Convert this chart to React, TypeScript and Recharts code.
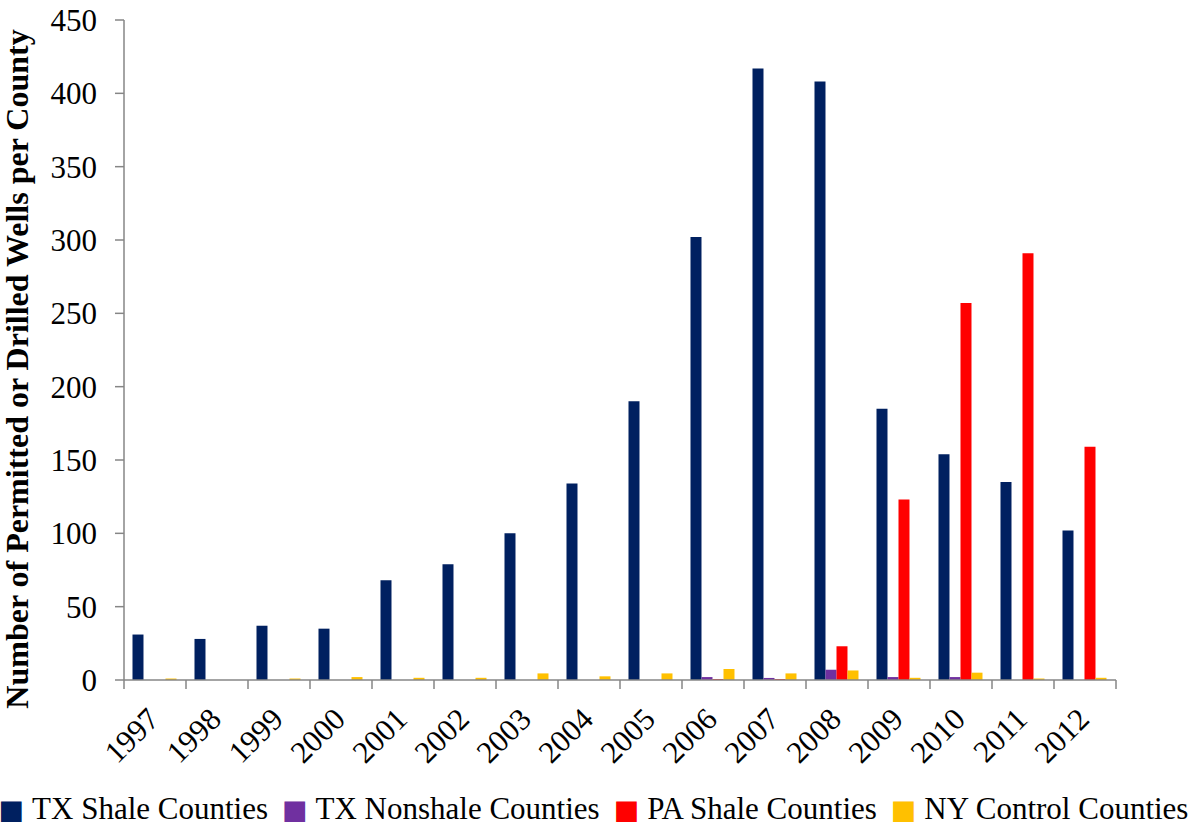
import React from 'react';
import { BarChart, Bar, XAxis, YAxis, Legend } from 'recharts';

const years = ['1997','1998','1999','2000','2001','2002','2003','2004','2005','2006','2007','2008','2009','2010','2011','2012'];
const txShale = [31, 28, 37, 35, 68, 79, 100, 134, 190, 302, 417, 408, 185, 154, 135, 102];
const txNonshale = [0, 0, 0, 0, 0, 0, 0, 0, 0, 2, 1.4, 7, 2, 2, 0, 0];
const paShale = [0, 0, 0, 0, 0, 0, 0, 0, 0, 0.6, 0.6, 23, 123, 257, 291, 159];
const nyControl = [1, 0, 1, 2, 1.5, 1.5, 4.5, 2.5, 4.5, 7.5, 4.5, 6.5, 1.5, 5, 1, 1.5];
const yTicks = [0, 50, 100, 150, 200, 250, 300, 350, 400, 450];
const seriesNames = ['TX Shale Counties', 'TX Nonshale Counties', 'PA Shale Counties', 'NY Control Counties'];

const data = years.map((y, i) => ({
  year: y,
  txShale: txShale[i],
  txNonshale: txNonshale[i],
  paShale: paShale[i],
  nyControl: nyControl[i],
}));

const W = 1199;
const H = 830;
const M = { top: 20, right: 83, left: 0, bottom: 0 };
const Y_W = 124;
const PLOT_W = W - M.left - M.right - Y_W;
const BAND = PLOT_W / years.length;
const FONT = "'Liberation Serif', 'Times New Roman', serif";
const AXIS = '#868686';

const XTick = (props: any) => {
  const { x, y, payload, index } = props;
  const left = x - BAND / 2;
  const ax = x + 6;
  const ay = y + 41;
  return (
    <g>
      <line x1={left} y1={y} x2={left} y2={y + 9} stroke={AXIS} strokeWidth={1.5} />
      {index === years.length - 1 && (
        <line x1={x + BAND / 2} y1={y} x2={x + BAND / 2} y2={y + 9} stroke={AXIS} strokeWidth={1.5} />
      )}
      <text x={ax} y={ay} transform={`rotate(-45, ${ax}, ${ay})`} textAnchor="end" fontFamily={FONT} fontSize={31} fill="#000">
        {payload.value}
      </text>
    </g>
  );
};

const LegendContent = (props: any) => {
  const payload = [...(props.payload || [])].sort(
    (a: any, b: any) => seriesNames.indexOf(a.value) - seriesNames.indexOf(b.value)
  );
  return (
    <svg width={W} height={40} style={{ display: 'block' }}>
      <text x={W / 2 - 6} y={29} textAnchor="middle" fontFamily={FONT} fontSize={31} fill="#000">
        {payload.map((e: any, i: number) => (
          <React.Fragment key={i}>
            <tspan fill={e.color} fontFamily="'DejaVu Sans', sans-serif" fontSize={27} dx={i === 0 ? 0 : 14}>■</tspan>
            <tspan dx={8}>{e.value}</tspan>
          </React.Fragment>
        ))}
      </text>
    </svg>
  );
};

const YLabel = () => (
  <text transform="translate(28, 369) rotate(-90)" textAnchor="middle" fontFamily={FONT} fontSize={32} fontWeight="bold" fill="#000">
    Number of Permitted or Drilled Wells per County
  </text>
);

export default function App() {
  return (
    <div style={{ position: 'absolute', left: 0, top: 0, width: W, height: H, background: '#fff' }}>
      <BarChart width={W} height={H} data={data} margin={M} barCategoryGap="13.7%" barGap={0}>
        <XAxis
          dataKey="year"
          height={110}
          tick={<XTick />}
          tickLine={false}
          tickSize={0}
          tickMargin={0}
          interval={0}
          axisLine={{ stroke: AXIS, strokeWidth: 1.5 }}
        />
        <YAxis
          width={Y_W}
          domain={[0, 450]}
          ticks={yTicks}
          interval={0}
          tickSize={9}
          tickMargin={18}
          axisLine={{ stroke: AXIS, strokeWidth: 1.5 }}
          tickLine={{ stroke: AXIS, strokeWidth: 1.5 }}
          tick={{ fontFamily: FONT, fontSize: 31, fill: '#000' }}
          label={<YLabel />}
        />
        <Legend verticalAlign="bottom" content={<LegendContent />} wrapperStyle={{ left: 0, width: W, bottom: 0 }} />
        <Bar dataKey="txShale" name={seriesNames[0]} fill="#002060" isAnimationActive={false} />
        <Bar dataKey="txNonshale" name={seriesNames[1]} fill="#7030A0" isAnimationActive={false} />
        <Bar dataKey="paShale" name={seriesNames[2]} fill="#FF0000" isAnimationActive={false} />
        <Bar dataKey="nyControl" name={seriesNames[3]} fill="#FFC000" isAnimationActive={false} />
      </BarChart>
    </div>
  );
}
